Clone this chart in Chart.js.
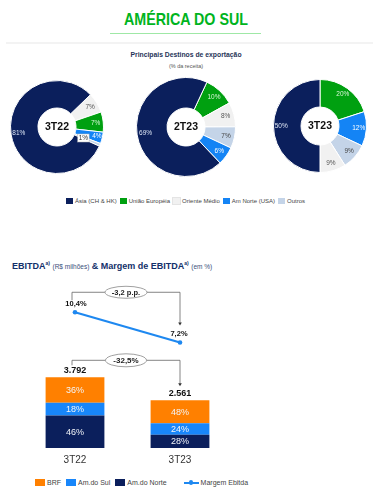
<!DOCTYPE html>
<html><head><meta charset="utf-8">
<script src="https://cdn.jsdelivr.net/npm/chart.js@4.4.1/dist/chart.umd.min.js"></script>
<style>
html,body{margin:0;padding:0;background:#fff;width:380px;height:496px;overflow:hidden;font-family:"Liberation Sans",Arial,sans-serif;}
.abs{position:absolute;}
#title{left:0;width:372px;top:10px;text-align:center;font-size:17px;font-weight:bold;color:#00B41E;transform:scaleX(0.84);transform-origin:186px 0;}
#uline{left:110px;top:33px;width:151px;height:1px;background:#9FE8A6;}
#sep{left:6px;top:42px;width:367px;height:2px;background:#F3F3F3;}
#sub1{left:0;width:372px;top:50px;text-align:center;font-size:8px;font-weight:bold;color:#1F3558;transform:scaleX(0.85);transform-origin:186px 0;}
#sub2{left:0;width:372px;top:63px;text-align:center;font-size:5.5px;color:#555;}
.legend{display:flex;align-items:center;font-size:6px;color:#444;white-space:nowrap;}
.legend .it{display:flex;align-items:center;margin-right:3px;}
.legend .bx{display:inline-block;margin-right:2px;}
#legend1{left:66px;top:198px;}
#legend1 .bx{width:7px;height:6px;}
#hdr{left:12px;top:260px;font-size:9px;font-weight:bold;color:#13306A;white-space:nowrap;}
#hdr sup{font-size:5px;vertical-align:4px;}
#hdr .sm{font-size:6.5px;font-weight:normal;color:#3A4E7A;}
#legend2{left:35px;top:479px;font-size:7px;color:#444;}
#legend2 .bx{width:10px;height:6.5px;}
#legend2 .ln{display:inline-block;width:15px;height:2px;background:#1E88F0;position:relative;margin-right:2px;}
#legend2 .ln:after{content:"";position:absolute;left:5.5px;top:-1.5px;width:4px;height:5px;border-radius:2px;background:#1E88F0;}
</style></head>
<body>
<div id="title" class="abs">AMÉRICA DO SUL</div>
<div id="uline" class="abs"></div>
<div id="sep" class="abs"></div>
<div id="sub1" class="abs">Principais Destinos de exportação</div>
<div id="sub2" class="abs">(% da receita)</div>
<canvas id="d1" class="abs"></canvas>
<canvas id="d2" class="abs"></canvas>
<canvas id="d3" class="abs"></canvas>
<div id="legend1" class="abs legend"></div>
<div id="hdr" class="abs">EBITDA<sup>a)</sup> <span class="sm">(R$ milhões)</span> &amp; Margem de EBITDA<sup>a)</sup> <span class="sm">(em %)</span></div>
<canvas id="bars" class="abs"></canvas>
<div id="legend2" class="abs legend"></div>
<script>
// ---------- DATA ----------
const destinations = ['Ásia (CH & HK)', 'União Européia', 'Oriente Médio', 'Am Norte (USA)', 'Outros'];
const periodsDonut = ['3T22', '2T23', '3T23'];
const share3T22 = [81, 7, 7, 4, 1];
const share2T23 = [69, 10, 8, 6, 7];
const share3T23 = [50, 20, 9, 12, 9];

const periods = ['3T22', '3T23'];
const ebitdaTotal = [3792, 2561];
const shareBRF = [36, 48];
const shareSul = [18, 24];
const shareNorte = [46, 28];
const margemEbitda = [10.4, 7.2];
const varMargem = '-3,2 p.p.';
const varEbitda = '-32,5%';

// ---------- STYLE ----------
const destColors = ['#0B1F5C', '#00A010', '#F1F1F1', '#1484F5', '#C4D4E8'];
const destLabelColors = ['#DDE6F5', '#D6F5D6', '#555555', '#FFFFFF', '#444444'];
const fmt = v => String(v).replace('.', ',');
const thous = v => v.toLocaleString('de-DE');

const donuts = [
  {id:'d1', cx:57, cy:127, r:46, values:share3T22, order:[2,1,3,4,0], rotation:46, special:{4:{rf:0.35, box:true}, 3:{rf:0.8}}},
  {id:'d2', cx:186, cy:127, r:49, values:share2T23, order:[1,2,4,3,0], rotation:25, special:{}},
  {id:'d3', cx:320, cy:126, r:46, values:share3T23, order:[1,3,4,2,0], rotation:0, special:{}}
];

const donutLabels = {
  id: 'donutLabels',
  afterDatasetsDraw(chart, args, opts) {
    const ctx = chart.ctx;
    const meta = chart.getDatasetMeta(0);
    const ds = chart.data.datasets[0];
    ctx.save();
    ctx.textAlign = 'center';
    ctx.textBaseline = 'middle';
    meta.data.forEach((arc, i) => {
      const p = arc.getProps(['x','y','startAngle','endAngle','innerRadius','outerRadius'], true);
      const mid = (p.startAngle + p.endAngle) / 2;
      const sp = opts.special[opts.order[i]] || {};
      const rf = sp.rf !== undefined ? sp.rf : 0.72;
      const r = p.innerRadius + (p.outerRadius - p.innerRadius) * rf;
      const x = p.x + Math.cos(mid) * r, y = p.y + Math.sin(mid) * r;
      const txt = ds.data[i] + '%';
      ctx.font = '6.5px "Liberation Sans", Arial';
      if (sp.box) {
        const w = ctx.measureText(txt).width + 2;
        ctx.fillStyle = '#FFFFFF';
        ctx.fillRect(x - w/2, y - 4, w, 8);
        ctx.strokeStyle = '#BBBBBB'; ctx.lineWidth = 0.5;
        ctx.strokeRect(x - w/2, y - 4, w, 8);
        ctx.fillStyle = '#333';
      } else {
        ctx.fillStyle = destLabelColors[opts.order[i]];
      }
      ctx.fillText(txt, x, y);
    });
    ctx.font = 'bold 10.5px "Liberation Sans", Arial';
    ctx.fillStyle = '#111';
    const a = meta.data[0];
    ctx.fillText(opts.center, a.x, a.y + 0.5);
    ctx.restore();
  }
};

donuts.forEach((d, k) => {
  const cv = document.getElementById(d.id);
  const size = 2 * d.r + 2;
  cv.style.left = (d.cx - size/2) + 'px';
  cv.style.top = (d.cy - size/2) + 'px';
  cv.style.width = size + 'px'; cv.style.height = size + 'px';
  cv.width = size; cv.height = size;
  new Chart(cv, {
    type: 'doughnut',
    data: {
      labels: d.order.map(i => destinations[i]),
      datasets: [{
        data: d.order.map(i => d.values[i]),
        backgroundColor: d.order.map(i => destColors[i]),
        borderColor: '#FFFFFF',
        borderWidth: 1
      }]
    },
    options: {
      responsive: false, animation: false,
      rotation: d.rotation, cutout: 19,
      layout: {padding: 0},
      plugins: {legend: {display: false}, tooltip: {enabled: false},
        donutLabels: {order: d.order, special: d.special, center: periodsDonut[k]}}
    },
    plugins: [donutLabels]
  });
});

// legend 1
const lg1 = document.getElementById('legend1');
destinations.forEach((n, i) => {
  const it = document.createElement('span'); it.className = 'it';
  it.innerHTML = '<span class="bx" style="background:' + destColors[i] + (i===2?';outline:0.5px solid #e4e4e4':'') + '"></span>' + n;
  lg1.appendChild(it);
});

// ---------- EBITDA CHART ----------
const barColors = {BRF:'#FF8000', Sul:'#1886FA', Norte:'#0B1F5C'};
const lineColor = '#1E88F0';
const pct = (sh) => sh.map((s, i) => ebitdaTotal[i] * s / 100);

const annot = {
  id: 'annot',
  afterDatasetsDraw(chart) {
    const ctx = chart.ctx;
    const xs = chart.scales.x, ys = chart.scales.y, y2 = chart.scales.y2;
    ctx.save();
    ctx.textAlign = 'center'; ctx.textBaseline = 'middle';
    [0,1,2].forEach(di => {
      const meta = chart.getDatasetMeta(di);
      const shares = chart.data.datasets[di].shares;
      meta.data.forEach((b, i) => {
        const p = b.getProps(['x','y','base'], true);
        ctx.font = '9px "Liberation Sans", Arial';
        ctx.fillStyle = '#F2F4F8';
        ctx.fillText(shares[i] + '%', p.x, (p.y + p.base) / 2 + 0.5);
      });
    });
    ebitdaTotal.forEach((t, i) => {
      const x = xs.getPixelForValue(i);
      ctx.font = 'bold 9px "Liberation Sans", Arial';
      ctx.fillStyle = '#111';
      ctx.fillText(thous(t), x, ys.getPixelForValue(t) - 6.5);
    });
    margemEbitda.forEach((m, i) => {
      const x = xs.getPixelForValue(i);
      ctx.font = 'bold 7.5px "Liberation Sans", Arial';
      ctx.fillStyle = '#111';
      ctx.fillText(fmt(m) + '%', x + (i===0?1:-1), y2.getPixelForValue(m) - 8.5);
    });
    const bracket = (yTop, yLeftEnd, yArrow, label, w, h, fs) => {
      const xa = xs.getPixelForValue(0) - 3, xb = xs.getPixelForValue(1);
      ctx.strokeStyle = '#666'; ctx.lineWidth = 0.8;
      ctx.beginPath();
      ctx.moveTo(xa, yLeftEnd); ctx.lineTo(xa, yTop); ctx.lineTo(xb, yTop); ctx.lineTo(xb, yArrow - 2);
      ctx.stroke();
      ctx.fillStyle = '#333';
      ctx.beginPath(); ctx.moveTo(xb - 1.8, yArrow - 3); ctx.lineTo(xb + 1.8, yArrow - 3); ctx.lineTo(xb, yArrow); ctx.closePath(); ctx.fill();
      const cx = (xa + xb) / 2;
      ctx.beginPath(); ctx.ellipse(cx, yTop, w/2, h/2, 0, 0, Math.PI*2);
      ctx.fillStyle = '#FFF'; ctx.fill();
      ctx.strokeStyle = '#888'; ctx.lineWidth = 0.8; ctx.stroke();
      ctx.font = 'bold ' + fs + 'px "Liberation Sans", Arial';
      ctx.fillStyle = '#222';
      ctx.fillText(label, cx, yTop + 0.5);
    };
    const m0 = y2.getPixelForValue(margemEbitda[0]);
    const m1 = y2.getPixelForValue(margemEbitda[1]);
    bracket(m0 - 20, m0 - 12, m1 - 17, varMargem, 42, 12, 7.5);
    const t0 = ys.getPixelForValue(ebitdaTotal[0]);
    const t1 = ys.getPixelForValue(ebitdaTotal[1]);
    bracket(t0 - 17, t0 - 12, t1 - 14, varEbitda, 41, 13, 8);
    ctx.restore();
  }
};

const bc = document.getElementById('bars');
bc.style.left = '0px'; bc.style.top = '280px';
bc.style.width = '250px'; bc.style.height = '192px';
bc.width = 250; bc.height = 192;
new Chart(bc, {
  type: 'bar',
  data: {
    labels: periods,
    datasets: [
      {label:'Am.do Norte', data: pct(shareNorte), shares: shareNorte, backgroundColor: barColors.Norte, stack:'s', yAxisID:'y', order:2},
      {label:'Am.do Sul', data: pct(shareSul), shares: shareSul, backgroundColor: barColors.Sul, stack:'s', yAxisID:'y', order:2},
      {label:'BRF', data: pct(shareBRF), shares: shareBRF, backgroundColor: barColors.BRF, stack:'s', yAxisID:'y', order:2},
      {type:'line', label:'Margem Ebitda', data: margemEbitda, yAxisID:'y2', borderColor: lineColor, backgroundColor: lineColor,
       borderWidth: 2.2, pointRadius: 2.3, pointBackgroundColor: lineColor, pointBorderWidth: 0, order: 0}
    ]
  },
  options: {
    responsive: false, animation: false,
    layout: {padding: {left: 22.5, right: 17.5, top: 0, bottom: 0}},
    datasets: {bar: {barPercentage: 0.56, categoryPercentage: 1, borderWidth: 0}},
    scales: {
      x: {stacked: true, grid: {display: false, drawTicks: false}, border: {display: false},
          ticks: {font: {size: 10, family: '"Liberation Sans", Arial'}, color: '#333', padding: 6}},
      y: {stacked: true, display: false, min: 0, max: 3792 * 174 / 75},
      y2: {display: false, min: -4.0, max: -4.0 + 17.4}
    },
    plugins: {legend: {display: false}, tooltip: {enabled: false}}
  },
  plugins: [annot]
});

// legend 2
const lg2 = document.getElementById('legend2');
[['BRF', barColors.BRF], ['Am.do Sul', barColors.Sul], ['Am.do Norte', barColors.Norte]].forEach(([n, c]) => {
  const it = document.createElement('span'); it.className = 'it'; it.style.marginRight = '5px';
  it.innerHTML = '<span class="bx" style="background:' + c + '"></span>' + n;
  lg2.appendChild(it);
});
const it = document.createElement('span'); it.className = 'it'; it.style.marginLeft = '12px';
it.innerHTML = '<span class="ln"></span>Margem Ebitda';
lg2.appendChild(it);
</script>
</body></html>
